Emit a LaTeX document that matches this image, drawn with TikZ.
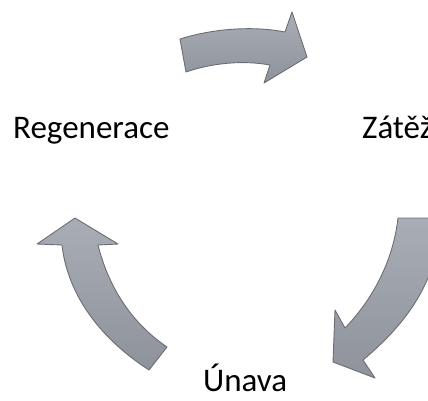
\documentclass[tikz,border=0pt]{standalone}
\usepackage{fontspec}
\setmainfont{Carlito}
\definecolor{arrtop}{HTML}{A9AEB6}
\definecolor{arrbot}{HTML}{8E939B}
\definecolor{arredge}{HTML}{6A6E74}
\tikzset{
  cyclearrow/.style={draw=arredge, line width=0.9pt, line join=round, top color=arrtop, bottom color=arrbot},
  lbl/.style={inner sep=0pt, font=\fontsize{33}{36}\selectfont, text=black}
}
\begin{document}
\begin{tikzpicture}[x=1pt,y=-1pt]
\useasboundingbox (0,0) rectangle (428,400);
\clip (0,0) rectangle (428,400);
% top arrow
\path[cyclearrow] (180,39) .. controls (215,28) and (255,26) .. (285,32)
  -- (292,12) -- (307,57) -- (264,83) -- (270,65)
  .. controls (243,60) and (212,63) .. (186,72) -- cycle;
% right arrow
\path[cyclearrow] (398,218) -- (440,218)
  .. controls (440,280) and (405,325) .. (363,360)
  -- (375,378) -- (333,362) -- (335,310) -- (345,328)
  .. controls (372,300) and (393,262) .. cycle;
% left arrow
\path[cyclearrow] (75,218) -- (118,244) -- (98,245)
  .. controls (108,285) and (130,322) .. (167,347)
  -- (149,370)
  .. controls (95,335) and (67,290) .. (62,245)
  -- (37,244) -- cycle;
\node[lbl, anchor=base west] (reg) at (13,138) {Regenerace};
\node[lbl, anchor=base west] (zat) at (362,138) {Zátěž};
\node[lbl, anchor=base west] (una) at (203,391) {Únava};
\end{tikzpicture}
\end{document}
